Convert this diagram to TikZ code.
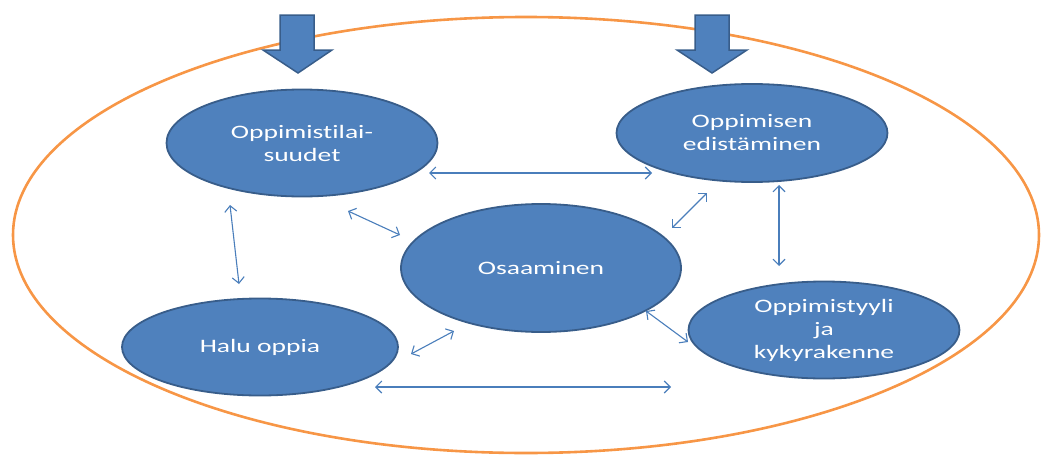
\documentclass[tikz,border=0pt]{standalone}
\usepackage{fontspec}
\setmainfont{Carlito}[Ligatures=NoCommon]
\usetikzlibrary{shapes.geometric,arrows.meta}
\definecolor{bfill}{HTML}{4F81BD}
\definecolor{bline}{HTML}{385D8A}
\definecolor{conn}{HTML}{4A7EBB}
\definecolor{orng}{HTML}{F79646}
\newcommand{\widetxt}[1]{\scalebox{1.45}[1]{#1}}
\tikzset{
  bubble/.style={ellipse, fill=bfill, draw=bline, line width=1.8pt, inner sep=0pt,
    text=white, align=center, font=\fontsize{19}{23}\selectfont},
  link/.style={draw=conn, line width=1.1pt,
    {Straight Barb[length=6pt,width=12pt,line width=1.1pt]}-{Straight Barb[length=6pt,width=12pt,line width=1.1pt]}},
  blockarrow/.style={fill=bfill, draw=bline, line width=1.5pt, line join=miter}
}
\begin{document}
\begin{tikzpicture}[x=1pt,y=-1pt]
\useasboundingbox (0,0) rectangle (1047,455);
% outer orange ellipse
\draw[orng, line width=2.6pt] (526,235) ellipse [x radius=513, y radius=218];
% block arrows
\draw[blockarrow] (280,15) -- (314,15) -- (314,50) -- (332,50) -- (298,73) -- (263,50) -- (280,50) -- cycle;
\draw[blockarrow] (695,15) -- (729,15) -- (729,50) -- (747,50) -- (712,73) -- (677,50) -- (695,50) -- cycle;
% bubbles
\node[bubble, minimum width=271pt, minimum height=107pt] (tila) at (302,143) {\widetxt{Oppimistilai-}\\\widetxt{suudet}};
\node[bubble, minimum width=271pt, minimum height=98pt] (edist) at (752,133) {\widetxt{Oppimisen}\\\widetxt{edistäminen}};
\node[bubble, minimum width=280pt, minimum height=128pt] (osaa) at (541,268) {\widetxt{Osaaminen}};
\node[bubble, minimum width=276pt, minimum height=97pt] (halu) at (260,347) {\widetxt{Halu oppia}};
\node[bubble, minimum width=271pt, minimum height=97pt] (tyyli) at (824,330) {\widetxt{Oppimistyyli}\\\widetxt{ja}\\\widetxt{kykyrakenne}};
% connector ends
\coordinate (c1a) at (429,173); \coordinate (c1b) at (652,173);
\coordinate (c2a) at (230,205); \coordinate (c2b) at (239,284);
\coordinate (c3a) at (348,211); \coordinate (c3b) at (400,235);
\coordinate (c4a) at (707,193); \coordinate (c4b) at (672,228);
\coordinate (c5a) at (779,185); \coordinate (c5b) at (779,266);
\coordinate (c6a) at (454,331); \coordinate (c6b) at (411,354);
\coordinate (c7a) at (646,311); \coordinate (c7b) at (688,342);
\coordinate (c8a) at (375,387); \coordinate (c8b) at (671,387);
\draw[link] (c1a) -- (c1b);
\draw[link] (c2a) -- (c2b);
\draw[link] (c3a) -- (c3b);
\draw[link] (c4a) -- (c4b);
\draw[link] (c5a) -- (c5b);
\draw[link] (c6a) -- (c6b);
\draw[link] (c7a) -- (c7b);
\draw[link] (c8a) -- (c8b);
\end{tikzpicture}
\end{document}
